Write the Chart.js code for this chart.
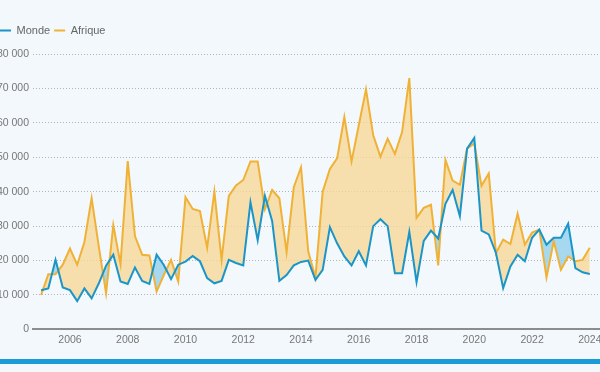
<!DOCTYPE html>
<html>
<head>
<meta charset="utf-8">
<script src="https://cdn.jsdelivr.net/npm/chart.js@4/dist/chart.umd.min.js"></script>
<style>
  html, body { margin: 0; padding: 0; width: 600px; height: 372px; overflow: hidden; background: #f3f8fc; }
  #wrap { position: absolute; left: -4px; top: 0; width: 624px; height: 358px; }
  #bar { position: absolute; left: 0; top: 359px; width: 600px; height: 5px; background: #1a9ad6; }
</style>
</head>
<body>
<div id="wrap"><canvas id="c" width="624" height="358"></canvas></div>
<div id="bar"></div>
<script>
// Quarterly series, first quarter = 2005
const startYear = 2005;
const seriesNames = ['Monde', 'Afrique'];
const monde = [
  11400, 11900, 20200, 12200, 11400, 8200, 11900, 9000,
  13400, 18500, 21700, 13900, 13200, 18000, 14100, 13200,
  21700, 18700, 14600, 18800, 19700, 21300, 19800, 14900,
  13400, 14100, 20200, 19300, 18600, 36900, 25900, 38800,
  31500, 14100, 15800, 18600, 19600, 20000, 14400, 17300,
  29700, 25000, 21200, 18600, 22700, 18600, 30000, 32000,
  30000, 16300, 16300, 28300, 13700, 25700, 28700, 26400,
  36500, 40500, 32900, 52500, 55600, 28700, 27600, 22200,
  12000, 18300, 21700, 19800, 26600, 29000, 24600, 26600,
  26600, 30700, 17800, 16600, 16100
];
const afrique = [
  10000, 16000, 16000, 18800, 23500, 18800, 25400, 38100,
  24000, 10500, 30300, 19000, 48900, 27100, 21700, 21500,
  11000, 15800, 20200, 13900, 38400, 35000, 34400, 23700,
  40000, 20200, 38800, 41800, 43400, 48800, 48800, 34900,
  40500, 38100, 22500, 41300, 47100, 22700, 15100, 40000,
  46600, 49700, 61700, 48800, 59300, 69700, 56400, 50200,
  55400, 51000, 57300, 73000, 32400, 35300, 36200, 18600,
  49200, 43200, 42000, 52500, 54000, 41700, 45300, 22200,
  26100, 24800, 33600, 24600, 28100, 29000, 15100, 25600,
  17300, 21200, 19800, 20200, 23700
];
const xTicks = [2006, 2008, 2010, 2012, 2014, 2016, 2018, 2020, 2022, 2024];
const yTicks = [0, 10000, 20000, 30000, 40000, 50000, 60000, 70000, 80000];

const blue = '#1b95c8', orange = '#efb236';
const blueFill = 'rgba(140, 206, 236, 0.75)', orangeFill = 'rgba(246, 214, 150, 0.78)';
const FONT = '"Liberation Sans", Arial, sans-serif';
const tickFont = { family: FONT, size: 10.5 };
const legendFont = { family: FONT, size: 11 };

const toPts = arr => arr.map((v, i) => ({ x: startYear + i / 4, y: v }));
const fmt = v => String(v).replace(/\B(?=(\d{3})+(?!\d))/g, ' ');

const legendSpace = {
  id: 'legendSpace',
  afterInit(chart) {
    const lg = chart.legend;
    if (!lg) return;
    const orig = lg.fit;
    lg.fit = function () { orig.call(this); this.height += 8; };
  }
};

new Chart(document.getElementById('c'), {
  type: 'line',
  data: {
    datasets: [
      { label: seriesNames[0], data: toPts(monde), borderColor: blue, backgroundColor: blue,
        borderWidth: 2, pointRadius: 0, tension: 0, fill: false },
      { label: seriesNames[1], data: toPts(afrique), borderColor: orange, backgroundColor: orange,
        borderWidth: 2, pointRadius: 0, tension: 0,
        fill: { target: 0, above: orangeFill, below: blueFill } }
    ]
  },
  plugins: [legendSpace],
  options: {
    responsive: false,
    animation: false,
    devicePixelRatio: 1,
    layout: { padding: { top: 21, left: 0, right: 0, bottom: 8 } },
    plugins: {
      tooltip: { enabled: false },
      legend: {
        position: 'top', align: 'start',
        labels: {
          boxWidth: 11, boxHeight: 2, padding: 4, color: '#666',
          font: legendFont,
          generateLabels(chart) {
            const items = Chart.defaults.plugins.legend.labels.generateLabels(chart);
            items.forEach(it => { it.lineWidth = 0; it.fillStyle = it.strokeStyle; });
            return items;
          }
        }
      }
    },
    scales: {
      x: {
        type: 'linear', min: 2004.72, max: 2025.045,
        afterBuildTicks(s) { s.ticks = xTicks.map(v => ({ value: v })); },
        grid: { display: false, drawTicks: false },
        border: { display: true, color: '#8c8c8c', width: 2 },
        ticks: { color: '#777', padding: 4, maxRotation: 0, autoSkip: false,
                 font: tickFont, callback: v => String(v) }
      },
      y: {
        min: 0, max: 80000,
        afterBuildTicks(s) { s.ticks = yTicks.map(v => ({ value: v })); },
        afterFit(s) { s.width = 37; },
        grid: { color: '#b4b4b4', lineWidth: 1, drawTicks: false },
        border: { display: false, dash: [1, 2] },
        ticks: { color: '#777', padding: 4, font: tickFont, callback: v => fmt(v) }
      }
    }
  }
});
</script>
</body>
</html>
